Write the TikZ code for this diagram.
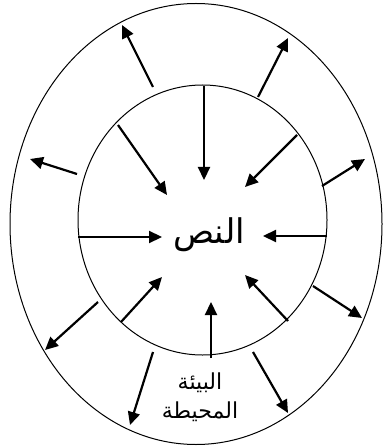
\documentclass[tikz,border=0pt]{standalone}
\usepackage{fontspec}
\newfontfamily\arabicfont[Script=Arabic]{DejaVu Sans}
\TeXXeTstate=1
\usetikzlibrary{arrows.meta,shapes.geometric}

\begin{document}
\begin{tikzpicture}[
  x=1pt, y=-1pt,
  >={Triangle[length=13pt, width=12pt]},
  ring/.style={ellipse, draw, line width=1pt, inner sep=0pt},
  ray/.style={->, line width=2.2pt},
  ttl/.style={font=\arabicfont\fontsize{34}{40}\selectfont},
  sub/.style={font=\arabicfont\fontsize{22}{29}\selectfont, align=center},
]
  \useasboundingbox (0,0) rectangle (382,446);

  \node[ring, minimum width=372pt, minimum height=441pt] (outer) at (196,224) {};
  \node[ring, minimum width=249pt, minimum height=270pt] (inner) at (202.5,220) {};

  \node[ttl] (text) at (209,235) {\beginR النص\endR};
  \node[sub] (env) at (200,397) {\beginR البيئة\endR\\\beginR المحيطة\endR};

  % outward rays: inner ring -> outer ring
  \foreach \x/\y/\u/\v [count=\i] in {%
      153/87/122/25, 258/97/288/38, 77/174/30/159, 322/186/365/159,
      313/286/362/318, 98/302/45/350, 153/352/130/425, 253/352/288/413}
    \draw[ray] (\x,\y) coordinate (o\i) -- (\u,\v) coordinate (p\i);

  % inward rays: inner ring -> text
  \foreach \x/\y/\u/\v [count=\i] in {%
      204/86/204/180, 118/125/167/195, 297/135/245/187, 78/237/162/237,
      327/236/263/236, 121/322/162/277, 288/321/245/275, 211/358/211/302}
    \draw[ray] (\x,\y) coordinate (q\i) -- (\u,\v) coordinate (r\i);
\end{tikzpicture}
\end{document}
